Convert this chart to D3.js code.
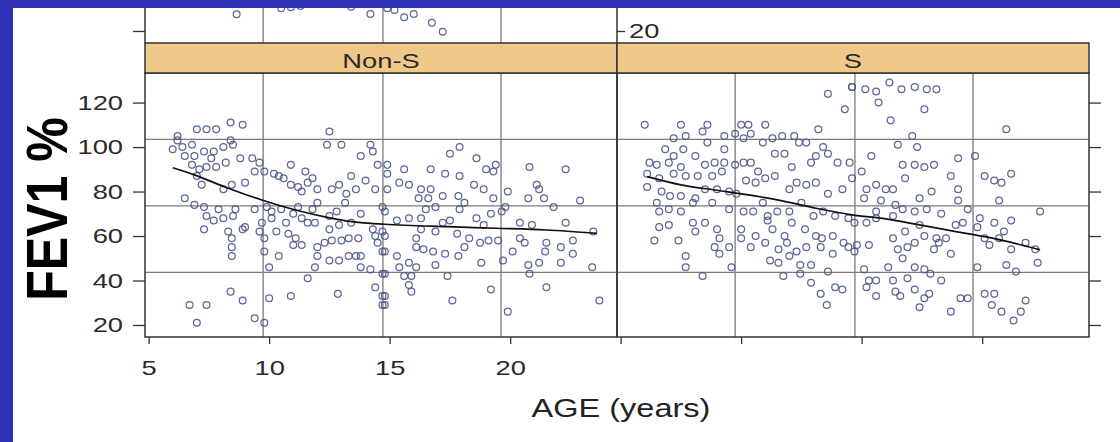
<!DOCTYPE html>
<html>
<head>
<meta charset="utf-8">
<script src="https://cdn.jsdelivr.net/npm/d3@7"></script>
<style>
body { margin: 0; background: #3131b5; }
svg { display: block; font-family: "Liberation Sans", Arial, sans-serif; }
</style>
</head>
<body>
<script>
var panels = ["Non-S", "S"];
var yTicks = [20, 40, 60, 80, 100, 120];
var xTicks = [5, 10, 15, 20];
var xGrid = [9.75, 14.72, 19.62];
var yGrid = [43.7, 73.6, 103.5];

// [age, FEV1 %]
var nonS = [[7.0,108],[7.4,108],[7.8,108],[8.4,111],[8.9,110],[12.5,107],[6.2,105],[6.2,103],[6.0,99],[6.4,100],[6.8,101],[6.5,96],[6.9,96],[7.3,98],[7.7,98],[8.1,100],[8.4,103],[8.5,101],[7.6,95],[8.2,93],[7.8,91],[7.4,91],[7.1,90],[7.0,87],[6.8,92],[8.8,95],[9.3,95],[9.6,93],[12.4,101],[13.0,101],[14.2,101],[14.3,98],[13.8,96],[14.5,92],[10.9,92],[11.5,89],[11.8,86],[12.9,83],[13.4,87],[14.0,85],[14.4,81],[13.2,79],[13.6,81],[12.6,81],[7.2,83],[8.1,81],[8.45,83],[9.0,84],[9.4,89],[9.8,89],[10.2,88],[10.4,87],[10.6,86],[10.9,83],[11.2,82],[11.35,80],[11.6,84],[12.0,81],[6.5,77],[6.9,74],[7.3,73],[7.9,72],[8.6,72],[9.4,72],[9.9,73],[10.1,71],[10.5,72],[11.0,70],[11.2,73],[11.8,72],[12.0,75],[12.5,69],[12.8,71],[13.15,75],[13.8,70],[14.7,73],[7.4,69],[7.7,67],[8.1,68],[8.5,69],[9.0,64],[8.9,63],[9.7,66],[10.1,68],[10.7,66],[11.35,68],[11.6,66],[11.9,66],[12.5,63],[12.9,65],[13.4,66],[14.3,63],[14.4,60],[14.7,62],[7.3,63],[8.3,62],[8.45,59],[9.6,62],[9.8,59],[10.3,62],[10.8,61],[11.1,59],[11.35,56],[11.0,56],[12.0,55],[12.3,57],[12.6,58],[13.0,58],[13.3,59],[13.7,59],[14.5,57],[8.45,55],[8.45,51],[9.8,53],[10.4,51],[12.0,51],[12.5,49],[12.9,49],[13.3,51],[13.6,51],[13.8,51],[14.7,53],[10.0,46],[11.9,46],[11.6,41],[13.8,46],[14.2,45],[14.7,43],[8.4,35],[8.9,31],[10.0,32],[10.9,33],[12.85,34],[14.4,37],[14.7,33],[6.7,29],[7.4,29],[7.0,21],[9.4,23],[9.8,21],[14.7,29],
  [17.9,100],[17.5,97],[18.6,95],[19.4,92],[19.0,90],[19.3,89],[20.8,91],[22.3,90],[14.9,92],[14.9,88],[15.6,90],[16.7,90],[17.3,88],[17.9,87],[18.5,83],[18.9,81],[14.9,81],[15.4,84],[15.8,83],[16.3,81],[16.7,81],[17.2,78],[16.6,77],[16.2,77],[17.85,78],[18.1,75],[19.3,77],[19.9,80],[20.75,77],[21.1,83],[21.2,81],[21.4,77],[21.8,73],[22.9,76],[16.9,73],[16.5,72],[17.9,72],[19.2,70],[19.8,73],[19.65,71],[14.8,71],[15.3,67],[15.8,68],[16.3,68],[17.2,66],[17.5,67],[18.6,68],[18.9,65],[20.4,66],[20.9,65],[22.3,66],[23.45,62],[14.8,60],[16.3,63],[16.9,62],[17.8,61],[18.3,59],[18.1,55],[18.75,57],[19.1,58],[19.5,58],[16.1,59],[16.1,55],[16.4,54],[16.8,53],[17.3,52],[17.85,51],[14.8,53],[15.3,51],[20.4,59],[20.6,57],[20.1,53],[21.5,57],[21.45,53],[22.1,55],[22.6,58],[22.6,52],[15.4,46],[15.8,48],[16.1,46],[15.6,42],[15.9,42],[15.8,38],[15.9,35],[16.9,47],[17.4,42],[18.8,48],[19.7,49],[20.75,47],[21.2,48],[22.1,48],[20.8,43],[14.8,43],[23.4,46],[19.2,36],[21.5,37],[14.8,33],[14.8,29],[17.6,31],[19.9,26],[23.7,31]];

var sPts = [[6.0,110],[7.5,110],[8.6,110],[10.0,110],[10.3,110],[11.0,110],[13.2,108],[13.6,124],[14.3,117],[14.6,127],[7.2,104],[7.7,105],[8.4,107],[8.6,102],[9.3,105],[9.75,106],[10.1,104],[10.4,106],[10.9,102],[11.3,104],[11.7,105],[12.2,105],[12.4,102],[12.7,102],[13.4,100],[6.85,99],[7.2,96],[7.6,99],[8.1,96],[8.5,92],[8.9,93],[9.3,93],[9.3,99],[6.2,93],[6.5,92],[7.0,93],[7.5,91],[6.1,88],[6.6,86],[7.2,88],[7.7,87],[8.2,87],[8.8,87],[9.2,89],[9.75,92],[10.1,93],[10.4,93],[10.7,89],[11.4,97],[11.8,97],[12.1,91],[12.9,93],[13.1,96],[13.6,97],[14.0,93],[14.5,93],[6.1,82],[6.7,80],[7.05,78],[7.5,78],[8.1,77],[8.5,81],[9.0,81],[9.5,80],[9.8,79],[10.2,85],[10.6,84],[11.0,86],[11.4,87],[12.0,81],[12.3,84],[12.7,83],[13.1,84],[13.6,79],[14.2,81],[14.6,86],[6.5,75],[6.6,71],[7.0,72],[7.5,71],[8.0,75],[8.8,75],[9.5,72],[10.1,71],[10.5,71],[10.9,75],[11.1,69],[11.5,71],[12.0,71],[12.5,75],[13.0,69],[13.4,71],[13.9,69],[14.45,68],[6.6,64],[7.0,65],[8.0,66],[8.5,66],[9.0,63],[10.0,63],[10.6,60],[11.1,67],[11.3,63],[11.8,60],[12.1,66],[12.65,63],[13.1,60],[13.35,59],[13.8,60],[14.25,57],[6.4,58],[7.4,58],[8.1,62],[9.1,59],[10.0,59],[10.4,55],[11.0,57],[11.55,54],[11.9,57],[12.3,53],[12.7,55],[13.3,55],[13.8,52],[14.45,55],[7.7,51],[8.9,55],[9.5,55],[9.1,52],[11.2,49],[11.55,48],[12.0,51],[12.45,47],[12.9,47],[13.6,44],[7.7,46],[8.4,42],[9.6,46],[11.75,42],[12.45,43],[12.9,39],[13.3,34],[13.55,29],[13.9,37],[14.2,36],
  [16.15,129],[15.15,126],[15.6,125],[15.7,120],[16.65,126],[17.2,127],[17.7,126],[18.1,126],[14.6,127],[17.6,117],[16.2,112],[17.1,105],[16.5,101],[17.3,100],[21.0,108],[19.7,96],[19.0,95],[15.4,96],[15.0,89],[16.7,92],[17.2,92],[17.6,91],[18.0,92],[18.7,87],[16.8,86],[20.1,87],[20.5,85],[20.8,84],[21.2,88],[15.6,83],[15.2,81],[16.0,81],[16.3,81],[17.9,80],[19.0,81],[15.1,77],[15.8,76],[16.4,74],[16.7,72],[17.4,77],[17.7,72],[17.2,71],[19.0,76],[19.4,72],[20.7,76],[22.4,71],[15.6,71],[14.7,66],[15.2,66],[15.6,68],[16.3,69],[18.3,70],[18.9,65],[19.2,66],[17.4,65],[16.8,62],[19.8,64],[19.9,68],[20.5,66],[21.2,67],[20.9,62],[16.3,59],[17.6,60],[18.1,59],[18.2,57],[18.5,59],[18.0,54],[17.2,57],[16.9,55],[16.5,54],[16.7,50],[20.1,59],[20.3,56],[20.7,59],[21.2,54],[21.8,57],[22.2,54],[22.3,48],[14.8,56],[15.3,56],[14.7,53],[18.7,52],[15.1,45],[16.1,46],[17.2,46],[17.6,45],[17.85,43],[18.3,40],[19.8,46],[21.0,47],[21.4,44],[15.3,40],[15.6,40],[15.2,37],[15.6,33],[16.3,40],[16.4,35],[16.6,33],[16.9,41],[17.2,36],[17.8,34],[17.6,32],[17.4,28],[19.1,32],[19.4,32],[18.7,26],[20.1,34],[20.5,34],[20.4,29],[20.8,26],[21.6,26],[21.8,31],[21.3,22]];

var nonSLoess = [[6.0,90.7],[6.9,87.5],[8.3,81.5],[9.7,76.2],[11.1,71.7],[12.45,68.3],[13.8,66],[14.8,65.3],[17.4,64.2],[19.4,63.5],[21.5,62.7],[23.6,61.2]];
var sLoess = [[6.1,86.7],[7.5,83],[8.9,80.7],[10.3,78.5],[11.7,75.8],[13.1,72.5],[14.6,69.5],[16.0,67.7],[17.4,65],[18.75,62.3],[20.1,59.7],[21.5,56.3],[22.4,53.8]];

// bottom of the panel above (cut off)
var topPts = [[8.65,27.5],[10.5,30.2],[10.9,30.7],[11.3,31.2],[13.4,30.9],[14.2,27.6],[14.9,30.2],[15.2,29.4],[15.6,26.2],[16.0,27.6],[16.75,23.7],[17.2,19.7]];

var width = 1120, height = 442;
var plotLeft = 145, plotTop = 73, pw = 472, ph = 264, stripH = 30;
var stretchK = 1.3;

var svg = d3.select("body").append("svg")
    .attr("width", width)
    .attr("height", height);

svg.append("rect")
    .attr("x", 13).attr("y", 8)
    .attr("width", width - 13).attr("height", height - 8)
    .attr("fill", "#fff");

var x = d3.scaleLinear().domain([4.85, 24.43]).range([0, pw]);
var y = d3.scaleLinear().domain([14.6, 133.3]).range([ph, 0]);

// make text look as wide as in the (stretched) original
function stretch(sel, k) {
    sel.each(function() {
        var w = this.getComputedTextLength();
        d3.select(this).attr("textLength", w * k).attr("lengthAdjust", "spacingAndGlyphs");
    });
}

function styleAxis(g) {
    g.select(".domain").remove();
    g.selectAll(".tick line").attr("stroke", "#333").attr("stroke-width", 1.3);
    g.selectAll(".tick text").attr("fill", "#2a2a2a").style("font-size", "21px");
}

function drawPoints(g, data) {
    g.append("g").selectAll("circle").data(data).enter().append("circle")
        .attr("cx", function(d) { return x(d[0]); })
        .attr("cy", function(d) { return y(d[1]); })
        .attr("r", 3.4)
        .attr("fill", "none")
        .attr("stroke", "#4a5789")
        .attr("stroke-opacity", 0.9)
        .attr("stroke-width", 1.25);
}

// panel above, only its lowest strip shows
var topg = svg.append("g").attr("transform", "translate(" + plotLeft + "," + (plotTop - stripH - ph) + ")");
topg.selectAll("line.vg").data(xGrid).enter().append("line")
    .attr("x1", function(d) { return x(d); }).attr("x2", function(d) { return x(d); })
    .attr("y1", ph - 60).attr("y2", ph)
    .attr("stroke", "#7a7a7a").attr("stroke-width", 1.3);
drawPoints(topg, topPts);
[0, pw].forEach(function(px) {
    topg.append("line").attr("x1", px).attr("x2", px).attr("y1", ph - 60).attr("y2", ph)
        .attr("stroke", "#333").attr("stroke-width", 1.5);
});
topg.append("g").call(d3.axisLeft(y).tickValues([20]).tickSize(12).tickFormat(""))
    .call(styleAxis);
topg.append("g").attr("transform", "translate(" + pw + ",0)")
    .call(d3.axisRight(y).tickValues([20]).tickSize(8).tickPadding(4))
    .call(styleAxis)
    .selectAll(".tick text").call(stretch, stretchK);

var lineGen = d3.line()
    .x(function(d) { return x(d[0]); })
    .y(function(d) { return y(d[1]); })
    .curve(d3.curveMonotoneX);

var series = [nonS, sPts];
var loess = [nonSLoess, sLoess];

panels.forEach(function(name, i) {
    var g = svg.append("g").attr("transform", "translate(" + (plotLeft + i * pw) + "," + plotTop + ")");

    g.selectAll("line.vg").data(xGrid).enter().append("line")
        .attr("x1", function(d) { return x(d); }).attr("x2", function(d) { return x(d); })
        .attr("y1", 0).attr("y2", ph)
        .attr("stroke", "#7a7a7a").attr("stroke-width", 1.3);
    g.selectAll("line.hg").data(yGrid).enter().append("line")
        .attr("x1", 0).attr("x2", pw)
        .attr("y1", function(d) { return y(d); }).attr("y2", function(d) { return y(d); })
        .attr("stroke", "#7a7a7a").attr("stroke-width", 1.3);

    drawPoints(g, series[i]);

    g.append("path").datum(loess[i])
        .attr("d", lineGen)
        .attr("fill", "none")
        .attr("stroke", "#111")
        .attr("stroke-width", 1.7);

    g.append("rect")
        .attr("width", pw).attr("height", ph)
        .attr("fill", "none").attr("stroke", "#333").attr("stroke-width", 1.5);

    // strip
    g.append("rect")
        .attr("y", -stripH).attr("width", pw).attr("height", stripH)
        .attr("fill", "#f0c98a").attr("stroke", "#333").attr("stroke-width", 1.5);
    g.append("text")
        .attr("x", pw / 2).attr("y", -5)
        .attr("text-anchor", "middle")
        .attr("fill", "#2a2a2a")
        .style("font-size", "21px")
        .text(name)
        .call(stretch, stretchK);

    var xa = g.append("g").attr("transform", "translate(0," + ph + ")");
    if (i == 0) {
        xa.call(d3.axisBottom(x).tickValues(xTicks).tickSize(7).tickPadding(16)).call(styleAxis);
        xa.selectAll(".tick text").call(stretch, stretchK);
        g.append("g")
            .call(d3.axisLeft(y).tickValues(yTicks).tickSize(12).tickPadding(10))
            .call(styleAxis)
            .selectAll(".tick text").call(stretch, stretchK);
    } else {
        xa.call(d3.axisBottom(x).tickValues(xTicks).tickSize(7).tickFormat("")).call(styleAxis);
        g.append("g").attr("transform", "translate(" + pw + ",0)")
            .call(d3.axisRight(y).tickValues(yTicks).tickSize(12).tickFormat(""))
            .call(styleAxis);
    }
});

svg.append("text")
    .attr("transform", "translate(67,209) rotate(-90) scale(1,1.13)")
    .attr("text-anchor", "middle")
    .attr("fill", "#000")
    .style("font-size", "50px")
    .style("font-weight", "bold")
    .text("FEV1 %");

svg.append("text")
    .attr("x", 621).attr("y", 417)
    .attr("text-anchor", "middle")
    .attr("fill", "#222")
    .style("font-size", "25px")
    .text("AGE (years)")
    .call(stretch, stretchK);

// slide frame on top
svg.append("rect").attr("width", width).attr("height", 8).attr("fill", "#3131b5");
svg.append("rect").attr("width", 13).attr("height", height).attr("fill", "#3131b5");
</script>
</body>
</html>
